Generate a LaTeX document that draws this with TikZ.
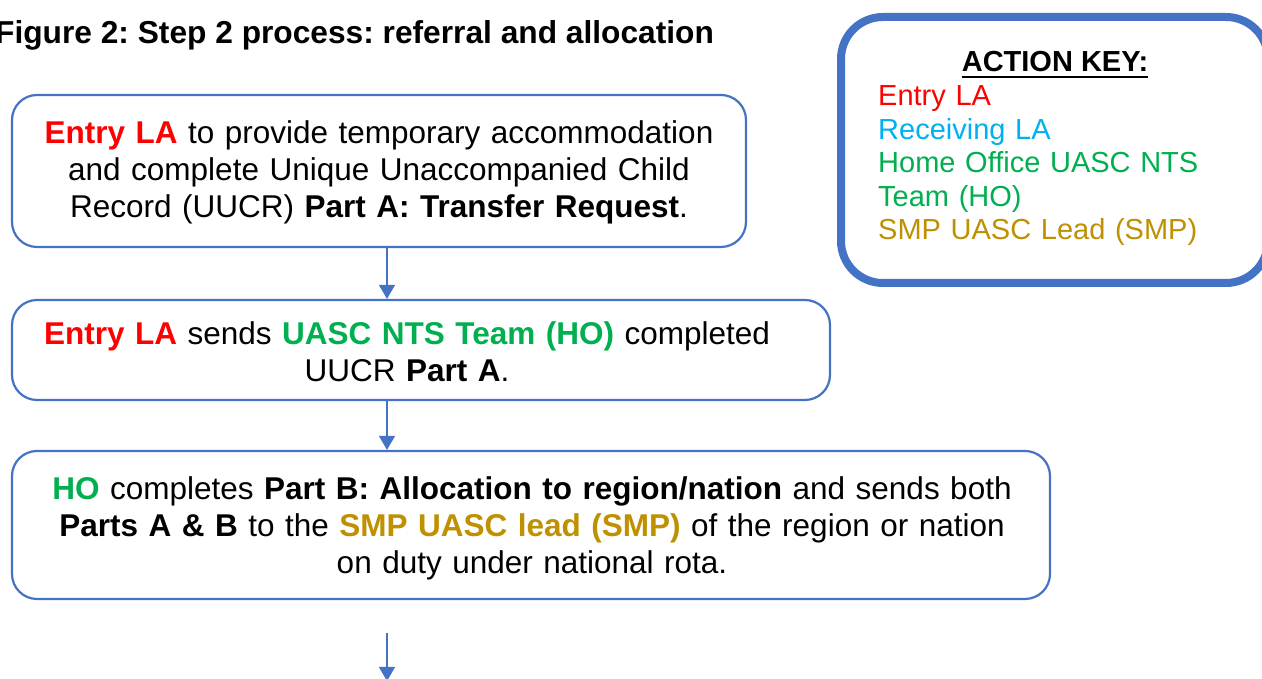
\documentclass[tikz,border=0pt]{standalone}
\usepackage{fontspec}
\setmainfont{Liberation Sans}
\usetikzlibrary{arrows.meta}
\definecolor{boxblue}{HTML}{4472C4}
\definecolor{entryred}{HTML}{FF0000}
\definecolor{recvblue}{HTML}{00B0F0}
\definecolor{hogreen}{HTML}{00B050}
\definecolor{smpgold}{HTML}{BF9000}
\newcommand{\entry}[1]{\textcolor{entryred}{\textbf{#1}}}
\newcommand{\hoc}[1]{\textcolor{hogreen}{\textbf{#1}}}
\newcommand{\smpc}[1]{\textcolor{smpgold}{\textbf{#1}}}
\frenchspacing
\begin{document}
\frenchspacing
\begin{tikzpicture}[x=1pt,y=1pt,
  stepbox/.style={draw=boxblue, line width=2.2pt, rounded corners=25pt, fill=white, inner sep=0pt},
  bodytext/.style={inner sep=0pt, align=center, anchor=base, font=\frenchspacing\fontsize{31.5}{37}\selectfont},
  flow/.style={draw=boxblue, line width=1.4pt, -{Triangle[width=16pt,length=14pt]}},
  keybox/.style={draw=boxblue, line width=8pt, rounded corners=42pt, inner sep=0pt},
]
\useasboundingbox (0,0) rectangle (1262,679);
\clip (0,0) rectangle (1262,679);
\fill[white] (0,0) rectangle (1262,679);

% title
\node[anchor=base west, inner sep=0pt, font=\frenchspacing\bfseries\fontsize{31.7}{37}\selectfont] (title) at (-5,635) {Figure 2: Step 2 process: referral and allocation};

% boxes
\node[stepbox, minimum width=734pt, minimum height=152pt] (b1) at (379,508) {};
\node[stepbox, minimum width=818pt, minimum height=100pt] (b2) at (421,329) {};
\node[stepbox, minimum width=1038pt, minimum height=148pt] (b3) at (531,154) {};

% box texts
\node[bodytext, text width=720pt] (t1) at (379,535) {\entry{Entry LA} to provide temporary accommodation\\ and complete Unique Unaccompanied Child\\ Record (UUCR) \textbf{Part A: Transfer Request}.};
\node[bodytext, text width=800pt] (t2) at (407,334) {\entry{Entry LA} sends \hoc{UASC NTS Team (HO)} completed\\ UUCR \textbf{Part A}.};
\node[bodytext, text width=1020pt] (t3) at (532,179) {\hoc{HO} completes \textbf{Part B: Allocation to region/nation} and sends both\\ \textbf{Parts A \& B} to the \smpc{SMP UASC lead (SMP)} of the region or nation\\ on duty under national rota.};

% connectors
\coordinate (ax) at (387,0);
\coordinate (a3s) at (387,46);
\coordinate (a3e) at (387,-2);
\draw[flow] (ax |- b1.south) -- (ax |- b2.north);
\draw[flow] (ax |- b2.south) -- (ax |- b3.north);
\draw[flow] (a3s) -- (a3e);

% action key
\node[keybox, minimum width=427pt, minimum height=266pt] (key) at (1054.5,529) {};
\node[inner sep=0pt, anchor=base, font=\bfseries\fontsize{29}{33.5}\selectfont] (keyhead) at (1055,607) {ACTION KEY:};
\draw[line width=2.6pt] ([yshift=-5pt]keyhead.base west) -- ([yshift=-5pt]keyhead.base east);
\node[inner sep=0pt, anchor=base west, align=left, text width=370pt, font=\fontsize{29}{33.5}\selectfont] (keylist) at (878,573) {\textcolor{entryred}{Entry LA}\\ \textcolor{recvblue}{Receiving LA}\\ \textcolor{hogreen}{Home Office UASC NTS}\\ \textcolor{hogreen}{Team (HO)}\\ \textcolor{smpgold}{SMP UASC Lead (SMP)}};
\end{tikzpicture}
\end{document}
